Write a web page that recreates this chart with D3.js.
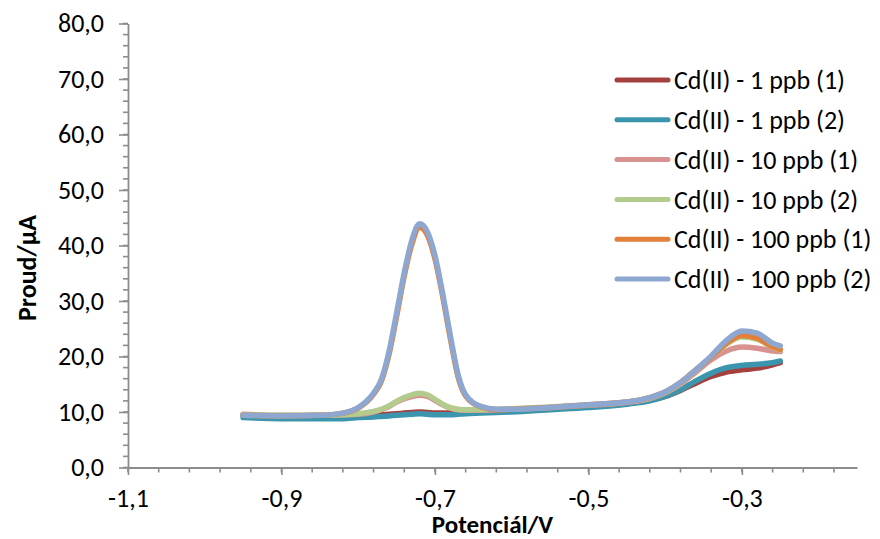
<!DOCTYPE html>
<html>
<head>
<meta charset="utf-8">
<script src="https://cdn.jsdelivr.net/npm/d3@7"></script>
<style>
  html, body { margin: 0; padding: 0; background: #fff; }
  svg { display: block; }
  text { font-family: Carlito, Lato, "Open Sans", sans-serif; fill: #000; }
</style>
</head>
<body>
<svg id="chart" width="880" height="539"></svg>
<script>
// Potential grid (V), shared by every voltammogram
const potentials = [-0.95, -0.90, -0.85, -0.82, -0.80, -0.78, -0.77, -0.76, -0.75, -0.74,
  -0.73, -0.72, -0.71, -0.70, -0.69, -0.68, -0.67, -0.66, -0.64, -0.62,
  -0.60, -0.55, -0.50, -0.45, -0.42, -0.40, -0.38, -0.36, -0.34, -0.32,
  -0.30, -0.28, -0.26, -0.25];

// Current (µA) for each measurement
const cd1a = [9.5, 9.3, 9.3, 9.3, 9.4, 9.5, 9.5, 9.6, 9.7, 9.8,
  9.9, 10.0, 9.9, 9.8, 9.8, 9.8, 9.8, 9.9, 10.0, 10.1,
  10.2, 10.6, 11.0, 11.5, 12.1, 12.8, 13.9, 15.2, 16.4, 17.2,
  17.6, 17.9, 18.5, 18.9];
const cd1b = [9.0, 8.8, 8.8, 8.8, 9.0, 9.1, 9.2, 9.3, 9.4, 9.5,
  9.6, 9.7, 9.6, 9.5, 9.5, 9.5, 9.6, 9.7, 9.8, 9.9,
  10.0, 10.4, 10.8, 11.4, 12.0, 12.8, 14.0, 15.6, 17.0, 18.0,
  18.4, 18.6, 18.9, 19.2];
const cd10a = [9.6, 9.4, 9.4, 9.5, 9.6, 10.0, 10.4, 11.0, 11.8, 12.4,
  12.8, 13.0, 12.8, 12.1, 11.3, 10.7, 10.4, 10.3, 10.3, 10.4,
  10.5, 10.8, 11.2, 11.7, 12.4, 13.4, 15.0, 17.2, 19.4, 21.0,
  21.7, 21.5, 21.0, 20.9];
const cd10b = [9.5, 9.4, 9.4, 9.5, 9.7, 10.1, 10.5, 11.1, 11.9, 12.6,
  13.1, 13.4, 13.1, 12.3, 11.4, 10.8, 10.5, 10.4, 10.4, 10.5,
  10.6, 10.9, 11.3, 11.8, 12.5, 13.5, 15.2, 17.5, 19.9, 22.2,
  23.5, 23.1, 21.7, 21.2];
const cd100a = [9.4, 9.3, 9.4, 9.8, 10.7, 13.2, 15.5, 20.3, 27.2, 34.5,
  40.3, 43.3, 41.9, 37.6, 30.9, 23.3, 16.4, 12.9, 10.9, 10.4,
  10.5, 10.8, 11.3, 11.8, 12.6, 13.6, 15.3, 17.6, 19.9, 22.4,
  23.8, 23.3, 21.8, 21.3];
const cd100b = [9.4, 9.3, 9.4, 9.8, 10.8, 13.4, 15.8, 20.8, 27.8, 35.1,
  41.0, 43.9, 42.5, 38.2, 31.4, 23.8, 16.8, 13.1, 11.0, 10.5,
  10.5, 10.8, 11.3, 11.8, 12.6, 13.6, 15.3, 17.6, 20.1, 22.9,
  24.6, 24.2, 22.4, 21.9];

const seriesNames = ["Cd(II) - 1 ppb (1)", "Cd(II) - 1 ppb (2)", "Cd(II) - 10 ppb (1)",
  "Cd(II) - 10 ppb (2)", "Cd(II) - 100 ppb (1)", "Cd(II) - 100 ppb (2)"];
const seriesValues = [cd1a, cd1b, cd10a, cd10b, cd100a, cd100b];
const seriesColors = ["#A4403D", "#3B95AD", "#D8928F", "#B3CB8D", "#E2803A", "#8EA7D0"];

const xTicks = [-1.1, -0.9, -0.7, -0.5, -0.3];
const yTicks = [0, 10, 20, 30, 40, 50, 60, 70, 80];

const svg = d3.select("#chart");
const plot = { left: 128, right: 857, top: 23.5, bottom: 467.5 };
const fontSize = 26;

const x = d3.scaleLinear().domain([-1.1, -0.15]).range([plot.left, plot.right]);
const y = d3.scaleLinear().domain([0, 80]).range([plot.bottom, plot.top]);

const fmt = v => d3.format(".1f")(v).replace(".", ",").replace("−", "-");
const axisColor = "#8C8C8C";

// minor ticks
const xMinor = d3.range(0, 24).map(i => -1.1 + i * 0.04);
const yMinor = d3.range(0, 41).map(i => i * 2);

const gx = svg.append("g").attr("transform", `translate(0,${plot.bottom})`);
gx.selectAll("line.minor").data(xMinor).join("line")
  .attr("x1", d => x(d)).attr("x2", d => x(d)).attr("y1", 0).attr("y2", 5)
  .attr("stroke", axisColor).attr("stroke-width", 1.6);
gx.call(d3.axisBottom(x).tickValues(xTicks).tickFormat(fmt).tickSize(7.5).tickPadding(14).tickSizeOuter(0))
  .call(g => g.select(".domain").attr("stroke", axisColor).attr("stroke-width", 1.8))
  .call(g => g.selectAll(".tick line").attr("stroke", axisColor).attr("stroke-width", 1.6))
  .call(g => g.selectAll(".tick text").attr("font-size", fontSize).attr("fill", "#000"));

const gy = svg.append("g").attr("transform", `translate(${plot.left},0)`);
gy.selectAll("line.minor").data(yMinor).join("line")
  .attr("x1", 0).attr("x2", -5).attr("y1", d => y(d)).attr("y2", d => y(d))
  .attr("stroke", axisColor).attr("stroke-width", 1.6);
gy.call(d3.axisLeft(y).tickValues(yTicks).tickFormat(fmt).tickSize(9).tickPadding(15).tickSizeOuter(0))
  .call(g => g.select(".domain").attr("stroke", axisColor).attr("stroke-width", 1.8))
  .call(g => g.selectAll(".tick line").attr("stroke", axisColor).attr("stroke-width", 1.6))
  .call(g => g.selectAll(".tick text").attr("font-size", fontSize).attr("fill", "#000"));
gy.selectAll("text").attr("font-family", null);
gx.selectAll("text").attr("font-family", null);

// axis titles
svg.append("text")
  .attr("x", (plot.left + plot.right) / 2).attr("y", 533)
  .attr("text-anchor", "middle").attr("font-size", 25).attr("font-weight", "bold")
  .text("Potenciál/V");
svg.append("text")
  .attr("transform", `translate(36,268) rotate(-90)`)
  .attr("text-anchor", "middle").attr("font-size", fontSize).attr("font-weight", "bold")
  .text("Proud/μA");

// voltammograms
const line = d3.line()
  .x((d, i) => x(potentials[i]))
  .y(d => y(d))
  .curve(d3.curveMonotoneX);

svg.append("g").selectAll("path").data(seriesValues).join("path")
  .attr("d", d => line(d))
  .attr("fill", "none")
  .attr("stroke", (d, i) => seriesColors[i])
  .attr("stroke-width", 5.5)
  .attr("stroke-linecap", "round")
  .attr("stroke-linejoin", "round");

// legend
const legend = svg.append("g").attr("transform", "translate(615,80)");
const items = legend.selectAll("g").data(seriesNames).join("g")
  .attr("transform", (d, i) => `translate(0,${i * 39.8})`);
items.append("line")
  .attr("x1", 2).attr("x2", 53).attr("y1", 0).attr("y2", 0)
  .attr("stroke", (d, i) => seriesColors[i]).attr("stroke-width", 5)
  .attr("stroke-linecap", "round");
items.append("text")
  .attr("x", 59).attr("y", 0).attr("dy", "0.35em")
  .attr("font-size", fontSize)
  .text(d => d);
</script>
</body>
</html>
